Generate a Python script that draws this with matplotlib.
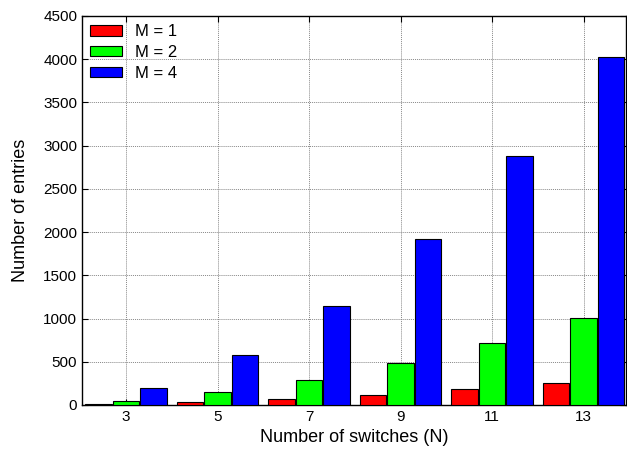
import matplotlib
matplotlib.use("Agg")
import matplotlib.pyplot as plt
import numpy as np

plt.rcParams['font.family'] = ['Liberation Sans', 'DejaVu Sans']

switches = [3, 5, 7, 9, 11, 13]
m1 = [12, 35, 70, 120, 180, 250]
m2 = [48, 145, 290, 480, 720, 1010]
m4 = [192, 580, 1150, 1920, 2880, 4030]

fig = plt.figure(figsize=(6.27, 4.54), dpi=100)
ax = fig.add_axes([0.131, 0.108, 0.867, 0.857])

x = np.array(switches, dtype=float)
w = 0.58
off = 0.6
ax.bar(x - off, m1, w, color='#ff0000', edgecolor='black', linewidth=0.8, label='M = 1', zorder=3)
ax.bar(x, m2, w, color='#00ff00', edgecolor='black', linewidth=0.8, label='M = 2', zorder=3)
ax.bar(x + off, m4, w, color='#0000ff', edgecolor='black', linewidth=0.8, label='M = 4', zorder=3)

ax.set_xlim(2.04, 13.92)
ax.set_ylim(0, 4500)
ax.set_xticks(switches)
ax.set_yticks(range(0, 4501, 500))
ax.tick_params(direction='in', labelsize=11, length=4, top=True, right=True)
ax.grid(True, linestyle=(0, (1, 1)), color='#888888', linewidth=0.7, zorder=0)

ax.set_xlabel('Number of switches (N)', fontsize=13)
ax.set_ylabel('Number of entries', fontsize=13, labelpad=10)
for s in ax.spines.values():
    s.set_linewidth(1.0)

ax.legend(loc='upper left', frameon=False, fontsize=12, handlelength=1.9,
          handleheight=0.6, labelspacing=0.35, borderpad=0.2, borderaxespad=0.3)

fig.savefig('out.png', dpi=100)
